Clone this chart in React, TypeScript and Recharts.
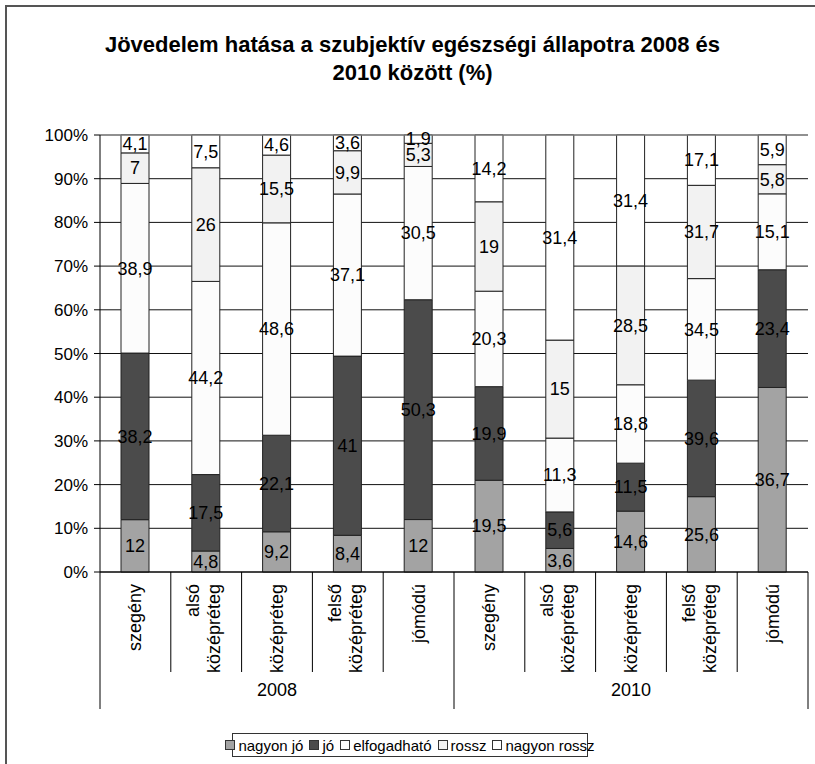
import { BarChart, Bar, XAxis, YAxis, CartesianGrid, LabelList, ReferenceLine } from "recharts";

// Jövedelem hatása a szubjektív egészségi állapotra
const years = ["2008", "2010"];
const incomeGroups = ["szegény", "alsó középréteg", "középréteg", "felső középréteg", "jómódú"];

const nagyonJo = [12, 4.8, 9.2, 8.4, 12, 19.5, 3.6, 14.6, 25.6, 36.7];
const jo = [38.2, 17.5, 22.1, 41, 50.3, 19.9, 5.6, 11.5, 39.6, 23.4];
const elfogadhato = [38.9, 44.2, 48.6, 37.1, 30.5, 20.3, 11.3, 18.8, 34.5, 15.1];
const rossz = [7, 26, 15.5, 9.9, 5.3, 19, 15, 28.5, 31.7, 5.8];
const nagyonRossz = [4.1, 7.5, 4.6, 3.6, 1.9, 14.2, 31.4, 31.4, 17.1, 5.9];

const yTicks = [0, 0.1, 0.2, 0.3, 0.4, 0.5, 0.6, 0.7, 0.8, 0.9, 1];

const series = [
  { key: "nagyonJo", name: "nagyon jó", values: nagyonJo, fill: "#a3a3a3" },
  { key: "jo", name: "jó", values: jo, fill: "#4b4b4b" },
  { key: "elfogadhato", name: "elfogadható", values: elfogadhato, fill: "#fcfcfc" },
  { key: "rossz", name: "rossz", values: rossz, fill: "#f2f2f2" },
  { key: "nagyonRossz", name: "nagyon rossz", values: nagyonRossz, fill: "#ffffff" },
];

const categories = years.flatMap((year) => incomeGroups.map((group) => ({ year, group })));

const data = categories.map((c, i) => {
  const row: Record<string, string | number> = { name: `${c.year} ${c.group}`, year: c.year, group: c.group };
  series.forEach((s) => {
    row[s.key] = s.values[i];
  });
  return row;
});

const FONT = "'Liberation Sans', Arial, sans-serif";
const BAND = 70.8;
const GROUP_SIZE = incomeGroups.length;

const fmt = (v: number) => String(v).replace(".", ",");

function CategoryTick(props: any) {
  const { x, y, index } = props;
  const cat = categories[index];
  if (!cat) return null;
  const words = cat.group.split(" ");
  const isGroupStart = index % GROUP_SIZE === 0;
  const isLast = index === categories.length - 1;
  const offsets = words.length === 1 ? [6] : [-7, 14];
  return (
    <g>
      <line
        x1={x - BAND / 2}
        x2={x - BAND / 2}
        y1={y}
        y2={y + (isGroupStart ? 137 : 100)}
        stroke="#000"
      />
      {isLast && <line x1={x + BAND / 2} x2={x + BAND / 2} y1={y} y2={y + 137} stroke="#000" />}
      {words.map((w, k) => (
        <text
          key={k}
          x={x + offsets[k]}
          y={y + 12}
          transform={`rotate(-90, ${x + offsets[k]}, ${y + 12})`}
          textAnchor="end"
          fontSize={18}
          fontFamily={FONT}
          fill="#000"
        >
          {w}
        </text>
      ))}
      {index % GROUP_SIZE === Math.floor(GROUP_SIZE / 2) && (
        <text x={x} y={y + 124} textAnchor="middle" fontSize={18} fontFamily={FONT} fill="#000">
          {cat.year}
        </text>
      )}
    </g>
  );
}

function makeLabel(values: number[]) {
  return (props: any) => {
    const { x, y, width, height, index } = props;
    const v = values[index];
    if (v == null) return null;
    return (
      <text
        x={Number(x) + Number(width) / 2}
        y={Number(y) + Number(height) / 2}
        dy="0.35em"
        textAnchor="middle"
        fontSize={18}
        fontFamily={FONT}
        fill="#000"
      >
        {fmt(v)}
      </text>
    );
  };
}

export default function App() {
  return (
    <div style={{ position: "absolute", left: 0, top: 0, width: 815, height: 764, overflow: "hidden", background: "#fff" }}>
      <div
        style={{
          position: "absolute",
          left: 5,
          top: 5,
          width: 840,
          height: 800,
          borderLeft: "2px solid #555",
          borderTop: "2px solid #555",
        }}
      />
      <div
        style={{
          position: "absolute",
          left: 5,
          top: 31,
          width: 815,
          textAlign: "center",
          fontFamily: FONT,
          fontWeight: "bold",
          fontSize: 22,
          lineHeight: "28px",
          color: "#000",
        }}
      >
        Jövedelem hatása a szubjektív egészségi állapotra 2008 és
        <br />
        2010 között (%)
      </div>
      <div style={{ position: "absolute", left: 0, top: 0 }}>
        <BarChart
          width={815}
          height={764}
          data={data}
          stackOffset="expand"
          barSize={28}
          margin={{ top: 135, right: 7, left: 0, bottom: 52 }}
        >
          <CartesianGrid vertical={false} stroke="#111" />
          <XAxis
            dataKey="name"
            height={140}
            interval={0}
            tickSize={0}
            tickMargin={0}
            tickLine={false}
            axisLine={{ stroke: "#000" }}
            tick={<CategoryTick />}
          />
          <YAxis
            width={100}
            domain={[0, 1]}
            ticks={yTicks}
            tickFormatter={(v: number) => `${Math.round(v * 100)}%`}
            tickSize={6}
            tickMargin={6}
            tick={{ fontSize: 17, fontFamily: FONT, fill: "#000" }}
            axisLine={{ stroke: "#000" }}
            tickLine={{ stroke: "#000" }}
          />
          <YAxis
            yAxisId="r"
            orientation="right"
            width={0}
            domain={[0, 1]}
            tick={false}
            tickLine={false}
            axisLine={{ stroke: "#999" }}
          />
          <ReferenceLine y={1} stroke="#999" />
          {series.map((s) => (
            <Bar
              key={s.key}
              dataKey={s.key}
              name={s.name}
              stackId="a"
              fill={s.fill}
              stroke="#222"
              strokeWidth={1}
              isAnimationActive={false}
            >
              <LabelList dataKey={s.key} content={makeLabel(s.values)} />
            </Bar>
          ))}
        </BarChart>
      </div>
      <div
        style={{
          position: "absolute",
          left: 232,
          top: 733,
          width: 356,
          height: 24,
          boxSizing: "border-box",
          border: "1px solid #333",
          display: "flex",
          alignItems: "center",
          justifyContent: "center",
          gap: 6,
          fontFamily: FONT,
          fontSize: 15,
          color: "#000",
          background: "#fff",
        }}
      >
        {series.map((s) => (
          <span key={s.key} style={{ display: "flex", alignItems: "center", gap: 3, whiteSpace: "nowrap" }}>
            <span
              style={{
                display: "inline-block",
                width: 8,
                height: 8,
                border: "1px solid #333",
                background: s.fill,
              }}
            />
            {s.name}
          </span>
        ))}
      </div>
    </div>
  );
}
